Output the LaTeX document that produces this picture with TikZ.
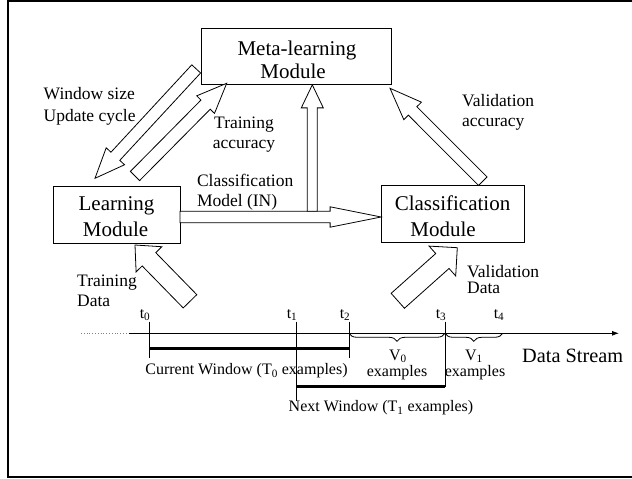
\documentclass[tikz,border=0pt]{standalone}
\usepackage{fontspec}
\setmainfont{Liberation Serif}
\usetikzlibrary{calc,arrows.meta,decorations.pathreplacing}

% hollow block arrow: tail, tip, shaft half-width, head half-width, head length
\newcommand{\hollowarrow}[5]{%
  \coordinate (hb) at ($(#2)!#5!(#1)$);
  \draw[blockarrow] ($(#1)!#3!90:(#2)$) -- ($(hb)!#3!90:(#2)$) -- ($(hb)!#4!90:(#2)$) -- (#2)
    -- ($(hb)!#4!-90:(#2)$) -- ($(hb)!#3!-90:(#2)$) -- ($(#1)!#3!-90:(#2)$) -- cycle;
}

\begin{document}
\begin{tikzpicture}[x=1pt,y=-1pt,
  module/.style={draw, line width=0.8pt, inner sep=0pt},
  modtext/.style={anchor=base, inner sep=0pt, font=\fontsize{21}{24}\selectfont},
  lbl/.style={anchor=base west, inner sep=0pt, font=\fontsize{17.5}{20}\selectfont},
  clbl/.style={anchor=base, inner sep=0pt, font=\fontsize{17.5}{20}\selectfont},
  tl/.style={anchor=base, inner sep=0pt, font=\fontsize{16}{18}\selectfont},
  tick/.style={anchor=base east, inner sep=0pt, font=\fontsize{16}{18}\selectfont},
  blockarrow/.style={draw, fill=white, line width=0.8pt, line join=miter},
  bar/.style={line width=3pt},
  thin/.style={line width=0.8pt},
  curly/.style={thin, decorate, decoration={brace, amplitude=8pt, mirror}}]

\useasboundingbox (0,0) rectangle (632,479);
\draw[line width=2.2pt] (8.3,0.7) rectangle (636,477.2);

% modules
\node[module, minimum width=190pt, minimum height=56.5pt] (meta) at (296.5,56.2) {};
\node[module, minimum width=126.4pt, minimum height=57pt] (learn) at (116.8,214.5) {};
\node[module, minimum width=142.5pt, minimum height=57.5pt] (classif) at (452.75,213.75) {};

\node[modtext] (meta1) at (297,55) {Meta-learning};
\node[modtext] (meta2) at (293,78) {Module};
\node[modtext] (learn1) at (116.5,210) {Learning};
\node[modtext] (learn2) at (115.5,236.5) {Module};
\node[modtext] (cls1) at (452.5,210) {Classification};
\node[modtext] (cls2) at (443,236.5) {Module};

% hollow arrows between modules
\coordinate (ws-s) at (196.2,68.9);   \coordinate (ws-e) at (95,178.3);
\coordinate (ta-s) at (135,176);      \coordinate (ta-e) at (226.7,83.3);
\coordinate (cm-s) at (180,217);      \coordinate (cm-e) at (classif.west |- 0,217);
\coordinate (up-s) at (312.3,211.3);  \coordinate (up-e) at (meta.south -| 312.3,0);
\coordinate (va-s) at (482.8,181.2);  \coordinate (va-e) at (390,88.3);
\coordinate (td-s) at (190,301.3);    \coordinate (td-e) at (135,245);
\coordinate (vd-s) at (397.8,300.8);  \coordinate (vd-e) at (457.3,247.7);

\hollowarrow{ws-s}{ws-e}{6pt}{12.5pt}{30pt}
\hollowarrow{ta-s}{ta-e}{6.5pt}{12.5pt}{30pt}
\hollowarrow{cm-s}{cm-e}{5.7pt}{10.2pt}{51pt}
\hollowarrow{up-s}{up-e}{5pt}{11pt}{23pt}
\hollowarrow{va-s}{va-e}{6pt}{12.4pt}{32pt}
\hollowarrow{td-s}{td-e}{9.5pt}{18pt}{20pt}
\hollowarrow{vd-s}{vd-e}{10pt}{20pt}{20pt}

% arrow labels
\node[lbl] (ws) at (43.5,99) {Window size};
\node[lbl] (uc) at (43.5,121) {Update cycle};
\node[clbl] (ta1) at (244,128) {Training};
\node[clbl] (ta2) at (244,148) {accuracy};
\node[lbl] (cm1) at (196.8,186.7) {Classification};
\node[lbl] (cm2) at (196.8,206.7) {Model (IN)};
\node[lbl] (va1) at (462,106.7) {Validation};
\node[lbl] (va2) at (462,126.7) {accuracy};
\node[lbl] (td1) at (77,286) {Training};
\node[lbl] (td2) at (77,306.7) {Data};
\node[lbl] (vd1) at (467,277.3) {Validation};
\node[lbl] (vd2) at (467,293.3) {Data};

% data stream axis
\coordinate (ax0) at (81,333.3);
\coordinate (ax1) at (129,333.3);
\coordinate (ax2) at (619,333.3);
\draw[thin, gray, dotted] (ax0) -- (ax1);
\draw[thin, -{Latex[length=7pt,width=5pt]}] (ax1) -- (ax2);
\node[anchor=base west, inner sep=0pt, font=\fontsize{20.3}{22}\selectfont] (ds) at (522,362.7) {Data Stream};

% time marks
\coordinate (t0) at (149,333.3);
\coordinate (t1) at (296,333.3);
\coordinate (t2) at (349,333.3);
\coordinate (t3) at (445,333.3);
\coordinate (t4) at (502.7,333.3);
\draw[thin] ($(t0)+(0,-11.6)$) -- ($(t0)+(0,24.7)$);
\draw[thin] ($(t1)+(0,-11.6)$) -- ($(t1)+(0,67.7)$);
\draw[thin] ($(t2)+(0,-11.6)$) -- ($(t2)+(0,24.4)$);
\draw[thin] ($(t3)+(0,-11.6)$) -- ($(t3)+(0,53.2)$);

\node[tick] (lt0) at (150.5,318.3) {t\textsubscript{0}};
\node[tick] (lt1) at (297.5,318.3) {t\textsubscript{1}};
\node[tick] (lt2) at (350.5,318.3) {t\textsubscript{2}};
\node[tick] (lt3) at (446.5,318.3) {t\textsubscript{3}};
\node[tick] (lt4) at (504.5,318.3) {t\textsubscript{4}};

% windows
\draw[bar] (t0 |- 0,348.5) -- (t2 |- 0,348.5);
\draw[bar] (t1 |- 0,386.5) -- (t3 |- 0,386.5);
\node[tl] (cw) at (246.5,374.5) {Current Window (T\textsubscript{0} examples)};
\node[tl] (nw) at (381,411.7) {Next Window (T\textsubscript{1} examples)};

% validation spans
\draw[curly] (t2) -- (t3);
\draw[curly] (t3) -- (t4);
\node[tl] (v0) at (398,360) {V\textsubscript{0}};
\node[tl] (v0e) at (397,376.5) {examples};
\node[tl] (v1) at (474,360) {V\textsubscript{1}};
\node[tl] (v1e) at (475,376.5) {examples};

\end{tikzpicture}
\end{document}
